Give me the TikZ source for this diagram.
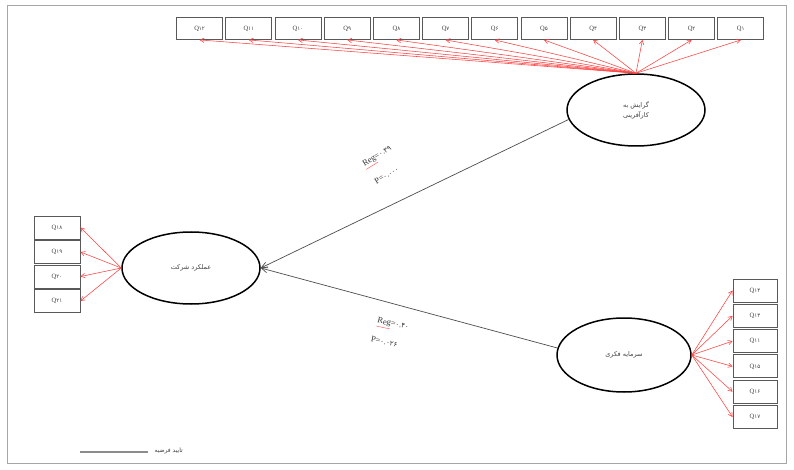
\documentclass[tikz,border=0pt]{standalone}
\usepackage{fontspec}
\setmainfont{Liberation Serif}
\newfontfamily\arabicfont[Script=Arabic]{DejaVu Sans}
\TeXXeTstate=1
\usetikzlibrary{shapes.geometric,arrows.meta}
\newcommand\qlab[1]{Q{\arabicfont\fontsize{5.5}{6}\selectfont #1}}
\newcommand\fa[1]{{\arabicfont\fontsize{7}{8}\selectfont #1}}
\begin{document}
\begin{tikzpicture}[x=1pt,y=-1pt,
 qbox/.style={draw=black!65, line width=0.9pt, minimum width=45pt, minimum height=22pt, inner sep=0pt, text=black!75, font=\fontsize{6.5}{7}\selectfont},
 latent/.style={ellipse, draw=black, line width=1.5pt, inner sep=0pt, text=black!75, font=\arabicfont\fontsize{6.5}{10}\selectfont, align=center},
 load/.style={draw=red!75, line width=0.55pt, -{Straight Barb[length=4pt,width=4.5pt]}},
 mainpath/.style={draw=black!70, line width=0.7pt, -{Straight Barb[length=6pt,width=6pt]}},
 coef/.style={text=black!80, inner sep=0pt, font=\fontsize{8.5}{10}\selectfont},
]
\useasboundingbox (0,0) rectangle (794,470);
\draw[black!35, line width=1pt] (7,6) rectangle (786,463);

% latent variables
\node[latent, minimum width=138pt, minimum height=72pt] (tr) at (636,110) {\beginR گرایش به\endR\\\beginR کارآفرینی\endR};
\node[latent, minimum width=138pt, minimum height=72pt] (le) at (191,268) {\beginR عملکرد شرکت\endR};
\node[latent, minimum width=134pt, minimum height=74pt] (re) at (624,355) {\beginR سرمایه فکری\endR};

% top indicators
\foreach \lab [count=\i] in {۱۲,۱۱,۱۰,۹,۸,۷,۶,۵,۴,۳,۲,۱}{
  \node[qbox, minimum width=46pt] (t\i) at ({175+49.2*(\i-0.5)},28.5) {\qlab{\lab}};
  \draw[load] (tr.north) -- (t\i.south);
}
% left indicators
\foreach \lab [count=\i] in {۱۸,۱۹,۲۰,۲۱}{
  \node[qbox, minimum width=46pt, minimum height=23pt] (l\i) at (57,{227.5+24.5*(\i-1)}) {\qlab{\lab}};
  \draw[load] (le.west) -- (l\i.east);
}
% right indicators
\foreach \lab [count=\i] in {۱۴,۱۳,۱۱,۱۵,۱۶,۱۷}{
  \node[qbox, minimum width=44pt, minimum height=23pt] (r\i) at (755,{290.5+25.3*(\i-1)}) {\qlab{\lab}};
  \draw[load] (re.east) -- (r\i.west);
}

% structural paths
\draw[mainpath] (tr.188) -- (le.east);
\draw[mainpath] (re.174) -- (le.east);

\node[coef, rotate=32, anchor=west] (c1a) at (364,166) {\textcolor{red!70}{\underline{\textcolor{black!80}{Reg}}}=\fa{۰.۳۹}};
\node[coef, rotate=32, anchor=west] (c1b) at (375,182) {P=\fa{۰.۰۰۰}};
\node[coef, rotate=-12, anchor=west] (c2a) at (377,322) {\textcolor{red!70}{\underline{\textcolor{black!80}{Reg}}}=\fa{۰.۴۰}};
\node[coef, rotate=-12, anchor=west] (c2b) at (371,339) {P=\fa{۰.۰۲۶}};

% legend
\coordinate (lg1) at (80,452);
\coordinate (lg2) at (148,452);
\draw[black!45, line width=1.3pt] (lg1) -- (lg2);
\node[text=black!75, font=\arabicfont\fontsize{6}{7}\selectfont, anchor=west] (lgt) at (151,451) {\beginR تایید فرضیه\endR};
\end{tikzpicture}
\end{document}
